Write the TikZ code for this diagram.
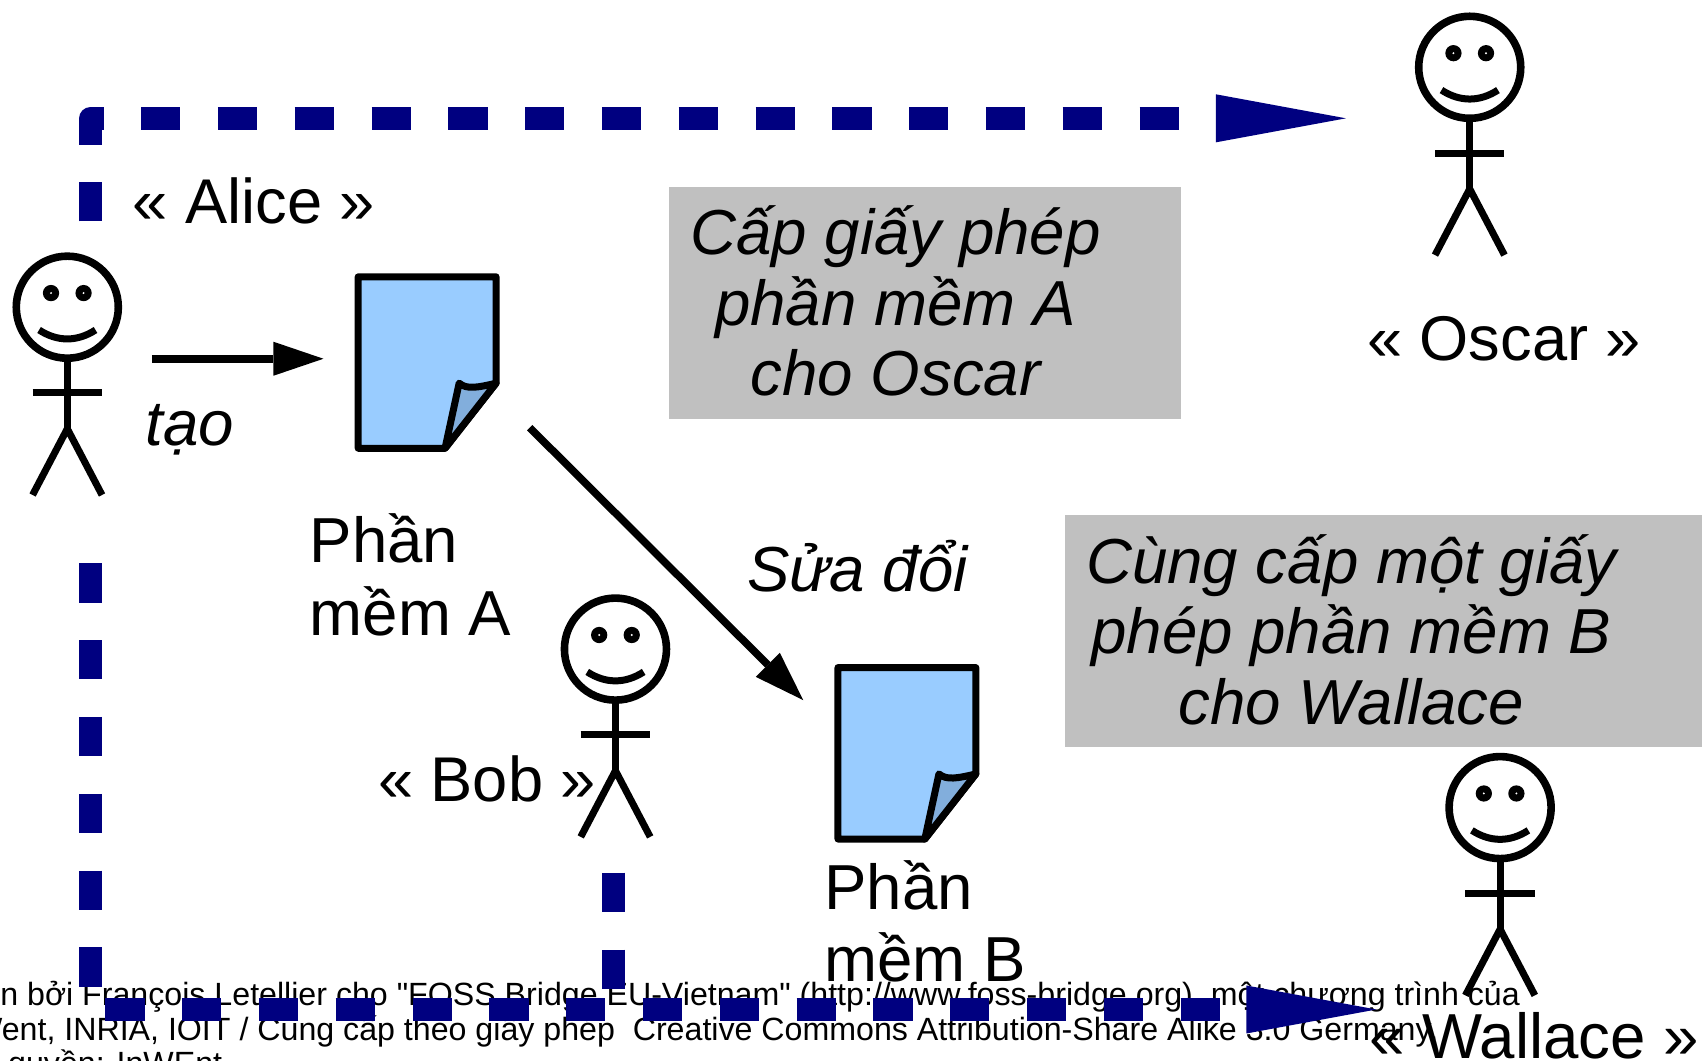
\documentclass[tikz,border=0pt]{standalone}
\usepackage{fontspec}
\setmainfont{Liberation Sans}
\usetikzlibrary{arrows.meta}

\definecolor{licblue}{HTML}{000080}
\definecolor{docblue}{HTML}{99CCFF}
\definecolor{foldblue}{HTML}{82AEDC}
\definecolor{boxgray}{HTML}{C0C0C0}

\newcommand{\bigfont}{\fontsize{31.8pt}{35.3pt}\selectfont}
\newcommand{\namefont}{\fontsize{31.6pt}{35.3pt}\selectfont}
\font\footfont="Liberation Sans" at 16.08pt

\tikzset{
  stickman/.pic={
    \draw[line width=3.8pt] (0,0) circle (47);
    \fill (-15,-13) circle (7.5);
    \fill (15,-13) circle (7.5);
    \fill[white] (-15,-13) circle (1);
    \fill[white] (15,-13) circle (1);
    \draw[line width=3.5pt] (-26,21) .. controls (-9,32) and (9,32) .. (26,21);
    \draw[line width=3.5pt] (0,47) -- (0,112);
    \draw[line width=3.5pt] (-32,79) -- (32,79);
    \draw[line width=3.5pt] (-32,173) -- (0,112) -- (32,173);
  },
  softdoc/.pic={
    \draw[line width=3.5pt,line join=round,fill=docblue]
      (0,0) -- (127,0) -- (127,98) -- (80,158) -- (0,158) -- cycle;
    \draw[line width=3.5pt,line join=round,fill=foldblue]
      (80,158) -- (93,98) .. controls (100,104) and (110,102) .. (127,98) -- cycle;
  },
  licence/.style={licblue,line width=11.4pt,dash pattern=on 19.6pt off 18.8pt,
    line join=round,-{Triangle[length=65pt,width=24pt,line width=0pt]}},
  licencepart/.style={licblue,line width=11.4pt,dash pattern=on 19.6pt off 18.8pt},
  action/.style={line width=3.8pt,-{Triangle[length=25pt,width=17pt,line width=0pt]}},
  bigtext/.style={font=\bigfont,inner sep=0pt,anchor=base west,align=left},
  nametext/.style={font=\namefont,inner sep=0pt,anchor=base west},
  footline/.style={font=\footfont,inner sep=0pt,anchor=base west},
  graybox/.style={fill=boxgray,inner sep=0pt},
}

\begin{document}
\begin{tikzpicture}[x=0.54273pt,y=-0.54273pt]
\useasboundingbox (0,0) rectangle (1568,977);
\clip (0,0) rectangle (1568,977);

% gray boxes
\node (boxA) [graybox,minimum width=256.2pt,minimum height=116.1pt] at (852,279) {};
\node (boxB) [graybox,minimum width=318.6pt,minimum height=116.1pt] at (1274.5,581.5) {};
\node (textA) [font=\bigfont\itshape,align=center,inner sep=0pt] at (825,277.5) {Cấp giấy phép\\phần mềm A\\cho Oscar};
\node (textB) [font=\bigfont\itshape,align=center,inner sep=0pt] at (1245,580) {Cùng cấp một giấy\\phép phần mềm B\\cho Wallace};

% figures
\pic at (62,283) {stickman};
\pic at (1354,62) {stickman};
\pic at (567,598) {stickman};
\pic at (1382,744) {stickman};

% software
\pic at (330,255) {softdoc};
\pic at (772,615) {softdoc};

% labels
\node (alice) [nametext] at (122,206) {« Alice »};
\node (oscar) [nametext] at (1259,332) {« Oscar »};
\node (bob) [nametext] at (348,738) {« Bob »};
\node (wallace) [bigtext] at (1261,975) {« Wallace »};
\node (softA) [bigtext] at (285,585) {Phần\\[0.8pt]mềm A};
\node (softB) [bigtext] at (759,904) {Phần\\[0.8pt]mềm B};
\node (create) [bigtext,font=\bigfont\itshape] at (134,410) {tạo};
\node (modify) [bigtext,font=\bigfont\itshape] at (688,545) {Sửa đổi};

% footer
\node (footA) [footline] at (0,926) {n bởi François Letellier cho "FOSS Bridge EU-Vietnam" (http://www.foss-bridge.org), một chương trình của};
\node (footB) [footline,anchor=base east] at (1325.5,959) {Went, INRIA, IOIT / Cung cấp theo giấy phép\ \ Creative Commons Attribution-Share Alike 3.0 Germany.};
\node (footC) [footline,anchor=base east] at (205,990) {quyền: InWEnt};

% arrows
\coordinate (makeA) at (140,330.5);
\coordinate (makeB) at (298,330.5);
\coordinate (editA) at (488,394);
\coordinate (editB) at (740,645);
\coordinate (aliceUp) at (83.5,204);
\coordinate (oscarIn) at (1240,109);
\coordinate (aliceDown) at (83.5,519);
\coordinate (wallaceIn) at (1268,930);
\coordinate (bobDown) at (565,804);
\coordinate (bobJoin) at (565,930);

\draw[action] (makeA) -- (makeB);
\draw[action] (editA) -- (editB);
\draw[licence] (aliceUp) |- (oscarIn);
\draw[licence] (aliceDown) |- (wallaceIn);
\draw[licencepart] (bobDown) -- (bobJoin);

\end{tikzpicture}
\end{document}
